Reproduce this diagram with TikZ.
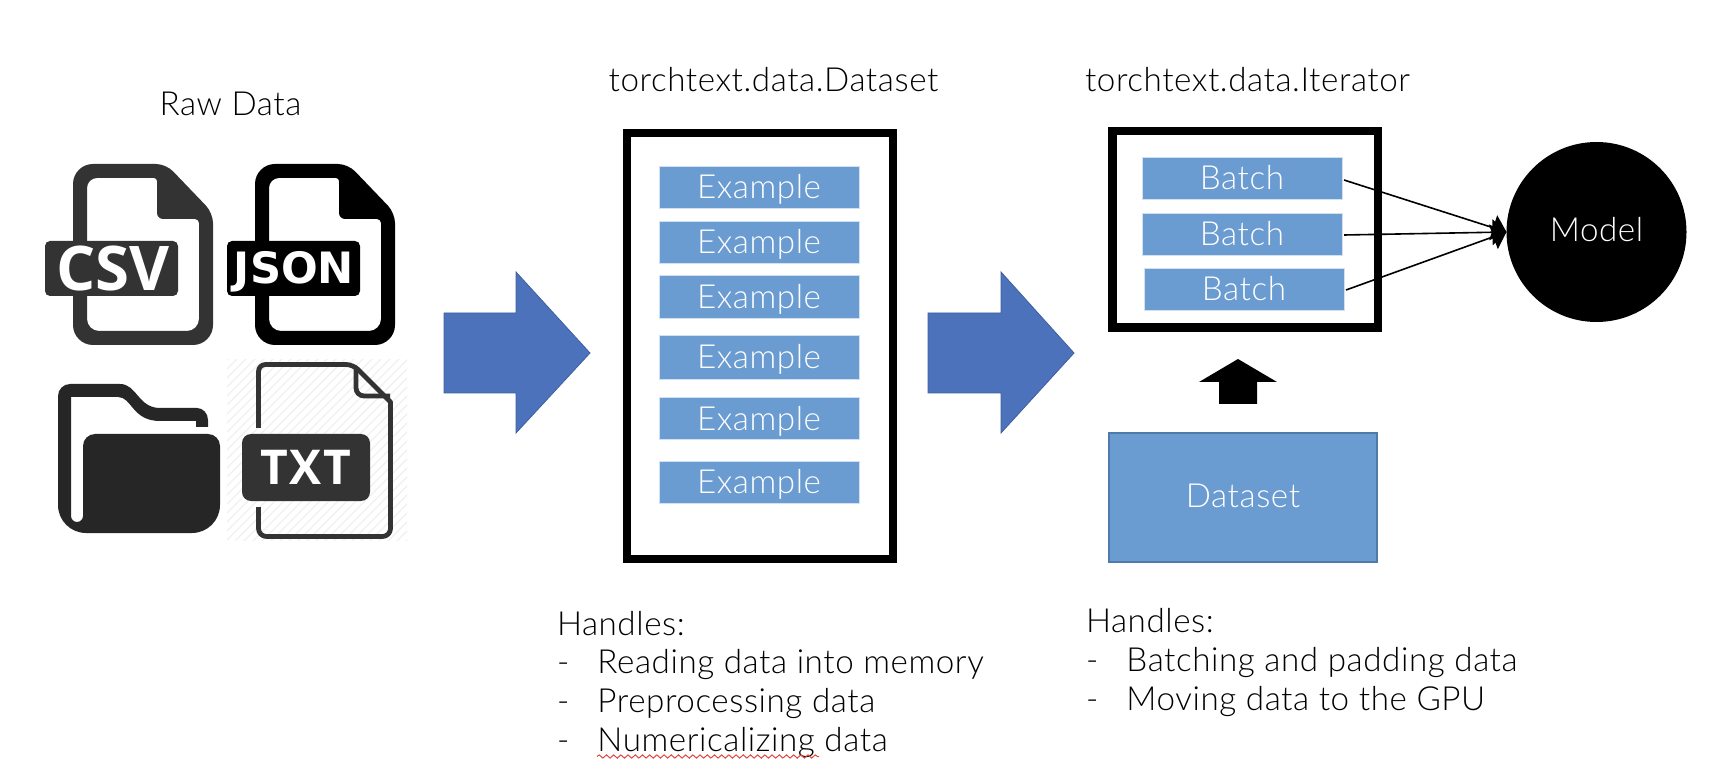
\documentclass[tikz,border=0pt]{standalone}
\usepackage{fontspec}
\setmainfont{Lato Light}[LetterSpace=1.7]
\newfontfamily\iconfont{Open Sans}[UprightFont=* Bold]
\newfontfamily\txtfont{Open Sans}[UprightFont=* Bold,LetterSpace=4]
\newfontfamily\jsonfont{DejaVu Sans}[UprightFont=* Bold]
\usetikzlibrary{arrows.meta,decorations.pathmorphing}
\definecolor{boxblue}{HTML}{6A9BD1}
\definecolor{arrowblue}{HTML}{4C72BC}
\definecolor{arrowedge}{HTML}{3F5F9F}
\definecolor{boxedge}{HTML}{4F7BAB}
\definecolor{icondark}{HTML}{333333}
\definecolor{folderdark}{HTML}{262626}
\definecolor{hatchgrey}{HTML}{F0F0F0}
\definecolor{spellred}{HTML}{E0483E}
\newcommand{\mainsize}{\fontsize{16.6}{19}\selectfont}
\newcommand{\dashline}[1]{\makebox[20.25pt][l]{-}#1}
\tikzset{
  txt/.style={inner sep=0pt,outer sep=0pt,anchor=base west,font=\mainsize,text=black},
  ttl/.style={txt,anchor=base},
  frame/.style={draw=black,line width=4.25pt,fill=white,inner sep=0pt,outer sep=0pt},
  itembox/.style={fill=boxblue,draw=white!70!boxblue,line width=.4pt,inner sep=0pt,outer sep=0pt,
    minimum width=100pt,minimum height=21pt,text=white,font=\mainsize,text height=13pt,text depth=1pt},
  dsbox/.style={itembox,draw=boxedge,line width=.7pt,minimum width=134pt,minimum height=64.5pt,text height=11pt},
  bigarrow/.style={fill=arrowblue,draw=arrowedge,line width=.4pt,line join=miter},
  link/.style={draw=black,line width=.8pt,-{Triangle[length=7pt,width=13pt]}},
  iconlabel/.style={text=white,inner sep=0pt,outer sep=0pt,anchor=base},
  pics/docicon/.style={code={
    \fill[#1,even odd rule]
      (0,181) [rounded corners=10pt] -- (0,0) [rounded corners=5pt] -- (93,0) -- (140,49)
      [rounded corners=10pt] -- (140,181) -- cycle
      (14,167) [rounded corners=5pt] -- (14,14) [rounded corners=1.5pt] -- (84,14)
      [rounded corners=3pt] -- (84,55) [rounded corners=2pt] -- (126,55)
      [rounded corners=6pt] -- (126,167) -- cycle;
    \fill[#1,rounded corners=2.5pt] (-28,77) rectangle (105,132);
  }}
}
\begin{document}
\begin{tikzpicture}[x=0.5pt,y=-0.5pt]
\useasboundingbox (0,0) rectangle (1724,780);
\fill[white] (0,0) rectangle (1724,780);

% titles
\node[ttl] (rawtitle) at (230.5,116) {Raw Data};
\node[ttl] (dstitle) at (773.5,92) {torchtext.data.Dataset};
\node[ttl] (ittitle) at (1247.5,92) {torchtext.data.Iterator};

% CSV and JSON icons
\pic at (73,164) {docicon=icondark};
\node[iconlabel,font=\iconfont\fontsize{30.8}{32}\selectfont] (csvtext) at (113,291) {CSV};
\pic at (255,164) {docicon=black};
\node[iconlabel,font=\jsonfont\fontsize{21.6}{23}\selectfont] (jsontext) at (294,283.5) {JSON};

% folder icon
\fill[folderdark]
  (58,396) arc[start angle=180,end angle=270,radius=12]
  -- (120,384) .. controls (137,384) and (138,408) .. (160,408)
  -- (197,408) arc[start angle=270,end angle=360,x radius=11,y radius=12]
  -- (208,427) -- (196,427) -- (196,421) -- (160,421)
  .. controls (132,421) and (132,397) .. (118,397)
  -- (71,397) -- (71,516) arc[start angle=180,end angle=0,radius=6]
  -- (83,446) arc[start angle=180,end angle=270,radius=12]
  -- (208,434) arc[start angle=270,end angle=360,radius=12]
  -- (220,505) arc[start angle=0,end angle=90,radius=28]
  -- (86,533) arc[start angle=90,end angle=180,radius=28] -- cycle;

% TXT icon
\begin{scope}
  \clip (227,360) rectangle (407,540);
  \foreach \k in {-180,-171,...,190}
    \draw[hatchgrey,line width=.6pt] (220+\k,547) -- (220+\k+190,357);
\end{scope}
\draw[icondark,line width=2.4pt,line join=round]
  (258.5,428) [rounded corners=3.5pt] -- (258.5,364.5) -- (353,364.5) [sharp corners] -- (390.5,402)
  [rounded corners=4pt] -- (390.5,536.5) -- (258.5,536.5) [sharp corners] -- (258.5,507);
\draw[icondark,line width=2.4pt]
  (356,368) [rounded corners=4pt] -- (356,396) -- (390,396);
\fill[icondark,rounded corners=4.5pt] (242,434) rectangle (370,501);
\node[iconlabel,font=\txtfont\fontsize{24}{26}\selectfont] (txttext) at (306,485) {TXT};

% block arrows
\draw[bigarrow] (444,313) -- (516,313) -- (516,272) -- (590,353) -- (516,433) -- (516,393) -- (444,393) -- cycle;
\draw[bigarrow] (928,313) -- (1001,313) -- (1001,272) -- (1074,353) -- (1001,433) -- (1001,393) -- (928,393) -- cycle;
\fill[black] (1219,404) -- (1219,382) -- (1199,382) -- (1238,359) -- (1277,382) -- (1257,382) -- (1257,404) -- cycle;

% dataset frame
\node[frame,minimum width=133pt,minimum height=212.75pt] (dsframe) at (759.75,346) {};
\node[itembox] (ex1) at (759,187) {Example};
\node[itembox] (ex2) at (759,242) {Example};
\node[itembox,minimum height=21.5pt] (ex3) at (759,296.5) {Example};
\node[itembox,minimum height=22pt] (ex4) at (759,357) {Example};
\node[itembox] (ex5) at (759,418) {Example};
\node[itembox] (ex6) at (759,482) {Example};

% iterator frame
\node[frame,minimum width=132.75pt,minimum height=98.25pt] (itframe) at (1245,229.5) {};
\node[itembox] (b1) at (1242,178) {Batch};
\node[itembox] (b2) at (1242,234) {Batch};
\node[itembox] (b3) at (1244,289) {Batch};
\node[dsbox] (dsrect) at (1243,497.5) {Dataset};

% model
\node[circle,fill=black,text=white,inner sep=0pt,outer sep=0pt,minimum size=90pt,font=\mainsize,text height=11pt,text depth=1pt] (model) at (1596.5,232) {Model};

% connectors
\draw[link] (b1.east) ++(2,2) -- (model.west);
\draw[link] (b2.east) ++(2,1) -- (model.west);
\draw[link] (b3.east) ++(2,1) -- (model.west);

% left handles
\node[txt] (la) at (557,635) {Handles:};
\node[txt] (lb) at (557,673) {\dashline{Reading data into memory}};
\node[txt] (lc) at (557,712) {\dashline{Preprocessing data}};
\node[txt] (ld) at (557,751) {\dashline{Numericalizing data}};
\coordinate (sqa) at (597,756.5);
\coordinate (sqb) at (819,756.5);
\draw[spellred,line width=.5pt,decorate,decoration={snake,amplitude=.8pt,segment length=3.6pt}] (sqa) -- (sqb);

% right handles
\node[txt] (ra) at (1086,632) {Handles:};
\node[txt] (rb) at (1086,671) {\dashline{Batching and padding data}};
\node[txt] (rc) at (1086,710) {\dashline{Moving data to the GPU}};
\end{tikzpicture}
\end{document}
